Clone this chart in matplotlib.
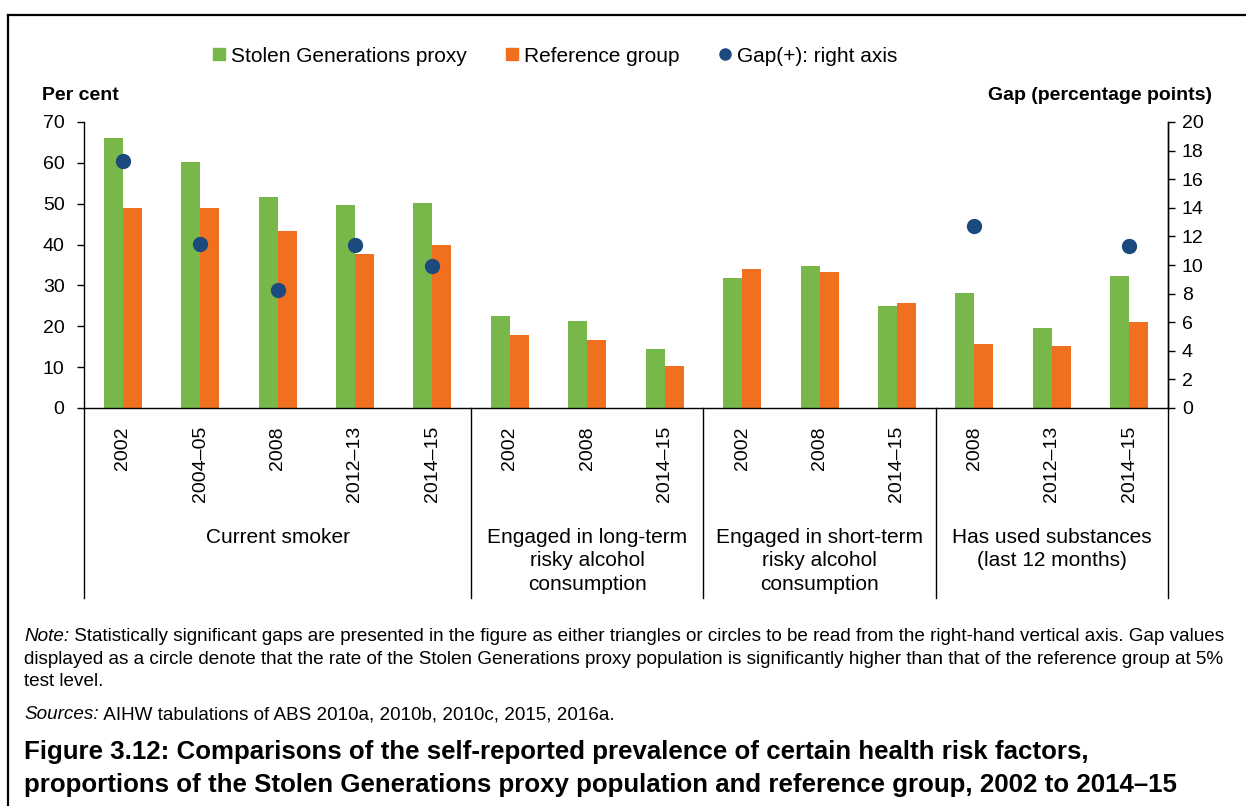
import numpy as np
import matplotlib
matplotlib.use("Agg")
import matplotlib.pyplot as plt
from matplotlib.lines import Line2D

plt.rcParams['font.family'] = ['Liberation Sans', 'DejaVu Sans']

# data
years = ['2002', '2004–05', '2008', '2012–13', '2014–15',
         '2002', '2008', '2014–15',
         '2002', '2008', '2014–15',
         '2008', '2012–13', '2014–15']
groups = ['Current smoker',
          'Engaged in long-term\nrisky alcohol\nconsumption',
          'Engaged in short-term\nrisky alcohol\nconsumption',
          'Has used substances\n(last 12 months)']
group_sizes = [5, 3, 3, 3]
stolen = [66.0, 60.2, 51.7, 49.8, 50.1, 22.5, 21.4, 14.4, 31.7, 34.8, 25.0, 28.2, 19.5, 32.4]
reference = [49.0, 49.0, 43.3, 37.8, 39.8, 17.9, 16.6, 10.4, 34.0, 33.2, 25.8, 15.6, 15.2, 21.0]
gap = [17.3, 11.5, 8.25, 11.4, 9.9, None, None, None, None, None, None, 12.7, None, 11.3]

green = '#78B74A'
orange = '#F0701F'
blue = '#1B4A7E'

fig = plt.figure(figsize=(12.46, 8.06), dpi=100)
ax = fig.add_axes([84/1246, 1-408/806, (1168-84)/1246, (408-122)/806])
ax2 = ax.twinx()

x = np.arange(len(years))
w = 0.245
ax.bar(x - w/2, stolen, width=w, color=green, zorder=2)
ax.bar(x + w/2, reference, width=w, color=orange, zorder=2)

gap_vals = np.array([np.nan if g is None else g for g in gap])
ax2.plot(x, gap_vals, 'o', color=blue, markersize=10, linestyle='none')

ax.set_xlim(-0.5, len(years) - 0.5)
ax.set_ylim(0, 70)
ax.set_yticks(range(0, 71, 10))
ax2.set_ylim(0, 20)
ax2.set_yticks(range(0, 21, 2))

ax.set_xticks(x)
ax.set_xticklabels(years, rotation=90, fontsize=14, va='top')
ax.tick_params(axis='x', length=0, pad=13)
ax.tick_params(axis='y', direction='out', length=5, width=1, pad=9, labelsize=14)
ax2.tick_params(axis='y', direction='out', length=5, width=1, pad=5, labelsize=14)

for a in (ax, ax2):
    a.spines['top'].set_visible(False)
    for s in a.spines.values():
        s.set_linewidth(1)
ax2.spines['left'].set_visible(False)
ax2.spines['bottom'].set_visible(False)

# separators between groups, running down through the labels
trans = ax.get_xaxis_transform()
edges = np.concatenate([[0], np.cumsum(group_sizes)]) - 0.5
for e in edges:
    ax.plot([e, e], [0, -0.665], color='black', lw=1, transform=trans, clip_on=False)
for i, g in enumerate(groups):
    cx = (edges[i] + edges[i+1]) / 2
    ax.text(cx, -0.418, g, transform=trans, ha='center', va='top',
            fontsize=15, linespacing=1.33)

# legend
handles = [Line2D([], [], marker='s', color=green, linestyle='none', markersize=8),
           Line2D([], [], marker='s', color=orange, linestyle='none', markersize=8),
           Line2D([], [], marker='o', color=blue, linestyle='none', markersize=8)]
fig.legend(handles, ['Stolen Generations proxy', 'Reference group', 'Gap(+): right axis'],
           loc='center', bbox_to_anchor=(555/1246, 1-56/806), ncol=3, frameon=False,
           fontsize=15, handlelength=0.6, handletextpad=0.25, columnspacing=1.9)

fig.text(42/1246, 1-95/806, 'Per cent', fontsize=14, fontweight='bold', va='center', ha='left')
fig.text(1212/1246, 1-95/806, 'Gap (percentage points)', fontsize=14, fontweight='bold',
         va='center', ha='right')

# outer frame (top and left visible)
fig.add_artist(Line2D([8/1246, 1], [1-15/806, 1-15/806], color='black', lw=1.6))
fig.add_artist(Line2D([8/1246, 8/1246], [0, 1-15/806], color='black', lw=1.6))

# notes
fs_note = 13.6
left = 24/1246
y1 = 1-641/806
y4 = 1-719/806
t1 = fig.text(left, y1, 'Note:', fontsize=fs_note, style='italic', va='baseline')
t2 = fig.text(left, y4, 'Sources:', fontsize=fs_note, style='italic', va='baseline')
fig.canvas.draw()
r = fig.canvas.get_renderer()
x1 = t1.get_window_extent(r).x1 / fig.bbox.width
x2 = t2.get_window_extent(r).x1 / fig.bbox.width
fig.text(x1, y1, ' Statistically significant gaps are presented in the figure as either triangles or circles '
         'to be read from the right-hand vertical axis. Gap values', fontsize=fs_note, va='baseline')
fig.text(x2, y4, ' AIHW tabulations of ABS 2010a, 2010b, 2010c, 2015, 2016a.',
         fontsize=fs_note, va='baseline')
fig.text(left, 1-664/806, 'displayed as a circle denote that the rate of the Stolen Generations proxy '
         'population is significantly higher than that of the reference group at 5%',
         fontsize=fs_note, va='baseline')
fig.text(left, 1-686/806, 'test level.', fontsize=fs_note, va='baseline')

fig.text(left, 1-752/806, 'Figure 3.12: Comparisons of the self-reported prevalence of certain health risk factors,',
         fontsize=18.6, fontweight='bold', va='center')
fig.text(left, 1-785/806, 'proportions of the Stolen Generations proxy population and reference group, 2002 to 2014–15',
         fontsize=18.6, fontweight='bold', va='center')

fig.savefig('out.png', dpi=100)
